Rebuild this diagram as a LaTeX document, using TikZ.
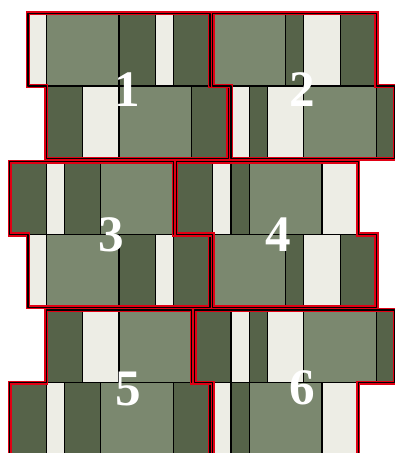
\documentclass[tikz,border=0pt]{standalone}
\usepackage{fontspec}
\setmainfont{Liberation Serif}
\definecolor{sage}{RGB}{123,136,111}
\definecolor{moss}{RGB}{86,99,73}
\definecolor{marble}{RGB}{237,237,229}
\definecolor{rim}{RGB}{225,0,20}
\begin{document}
\begin{tikzpicture}[x=0.5cm,y=0.5cm,
            sagetile/.style={fill=sage,draw=black,line width=0.95pt},
            mosstile/.style={fill=moss,draw=black,line width=0.95pt},
            marbletile/.style={fill=marble,draw=black,line width=0.95pt},
            rimline/.style={draw=black,line width=0.95pt,line join=round,
                preaction={draw=rim,line width=3.3pt}},
            numlabel/.style={text=white,inner sep=0pt,
                font=\bfseries\fontsize{40}{40}\selectfont}
        ]
            \useasboundingbox (-1.54,0.73) rectangle (20.16,-24.16);
            % first pair of rows
            \begin{scope}
            \path[marbletile] (0,0) rectangle ++(1,-4) (7,0) rectangle ++(1,-4)
                (3,-4) rectangle ++(2,-4);
            \path[sagetile] (1,0) rectangle ++(4,-4) (5,-4) rectangle ++(4,-4);
            \path[mosstile] (5,0) rectangle ++(2,-4) (8,0) rectangle ++(2,-4)
                (1,-4) rectangle ++(2,-4) (9,-4) rectangle ++(2,-4);
            \path[rimline] (0,0) -- (10,0) -- (10,-4) -- (11,-4) -- (11,-8)
                -- (1,-8) -- (1,-4) -- (0,-4) -- cycle;
            \end{scope}
            \begin{scope}[shift={(0.15,0)}]
            \path[marbletile] (15,0) rectangle ++(2,-4)
                (11,-4) rectangle ++(1,-4) (13,-4) rectangle ++(2,-4);
            \path[sagetile] (10,0) rectangle ++(4,-4) (15,-4) rectangle ++(4,-4);
            \path[mosstile] (14,0) rectangle ++(1,-4) (17,0) rectangle ++(2,-4)
                (12,-4) rectangle ++(1,-4) (19,-4) rectangle ++(1,-4);
            \path[rimline] (10,0) -- (19,0) -- (19,-4) -- (20,-4) -- (20,-8)
                -- (11,-8) -- (11,-4) -- (10,-4) -- cycle;
            \end{scope}
            % second pair of rows
            \begin{scope}[shift={(0,-8.15)}]
            \path[marbletile] (1,0) rectangle ++(1,-4)
                (0,-4) rectangle ++(1,-4) (7,-4) rectangle ++(1,-4);
            \path[sagetile] (4,0) rectangle ++(4,-4) (1,-4) rectangle ++(4,-4);
            \path[mosstile] (-1,0) rectangle ++(2,-4) (2,0) rectangle ++(2,-4)
                (5,-4) rectangle ++(2,-4) (8,-4) rectangle ++(2,-4);
            \path[rimline] (-1,0) -- (8,0) -- (8,-4) -- (10,-4) -- (10,-8)
                -- (0,-8) -- (0,-4) -- (-1,-4) -- cycle;
            \end{scope}
            \begin{scope}[shift={(0.15,-8.15)}]
            \path[marbletile] (10,0) rectangle ++(1,-4) (16,0) rectangle ++(2,-4)
                (15,-4) rectangle ++(2,-4);
            \path[sagetile] (12,0) rectangle ++(4,-4) (10,-4) rectangle ++(4,-4);
            \path[mosstile] (8,0) rectangle ++(2,-4) (11,0) rectangle ++(1,-4)
                (14,-4) rectangle ++(1,-4) (17,-4) rectangle ++(2,-4);
            \path[rimline] (8,0) -- (18,0) -- (18,-4) -- (19,-4) -- (19,-8)
                -- (10,-8) -- (10,-4) -- (8,-4) -- cycle;
            \end{scope}
            % third pair of rows
            \begin{scope}[shift={(0,-16.3)}]
            \path[marbletile] (3,0) rectangle ++(2,-4) (1,-4) rectangle ++(1,-4);
            \path[sagetile] (5,0) rectangle ++(4,-4) (4,-4) rectangle ++(4,-4);
            \path[mosstile] (1,0) rectangle ++(2,-4) (-1,-4) rectangle ++(2,-4)
                (2,-4) rectangle ++(2,-4) (8,-4) rectangle ++(2,-4);
            \path[rimline] (1,0) -- (9,0) -- (9,-4) -- (10,-4) -- (10,-8)
                -- (-1,-8) -- (-1,-4) -- (1,-4) -- cycle;
            \end{scope}
            \begin{scope}[shift={(0.15,-16.3)}]
            \path[marbletile] (11,0) rectangle ++(1,-4) (13,0) rectangle ++(2,-4)
                (10,-4) rectangle ++(1,-4) (16,-4) rectangle ++(2,-4);
            \path[sagetile] (15,0) rectangle ++(4,-4) (12,-4) rectangle ++(4,-4);
            \path[mosstile] (9,0) rectangle ++(2,-4) (12,0) rectangle ++(1,-4)
                (19,0) rectangle ++(1,-4) (11,-4) rectangle ++(1,-4);
            \path[rimline] (9,0) -- (20,0) -- (20,-4) -- (18,-4) -- (18,-8)
                -- (10,-8) -- (10,-4) -- (9,-4) -- cycle;
            \end{scope}
            % piece numbers
            \node[numlabel] (one) at (5.44,-4.21) {1};
            \node[numlabel] (two) at (15.05,-4.21) {2};
            \node[numlabel] (three) at (4.56,-12.18) {3};
            \node[numlabel] (four) at (13.74,-12.18) {4};
            \node[numlabel] (five) at (5.49,-20.64) {5};
            \node[numlabel] (six) at (15.05,-20.59) {6};
        \end{tikzpicture}
\end{document}
